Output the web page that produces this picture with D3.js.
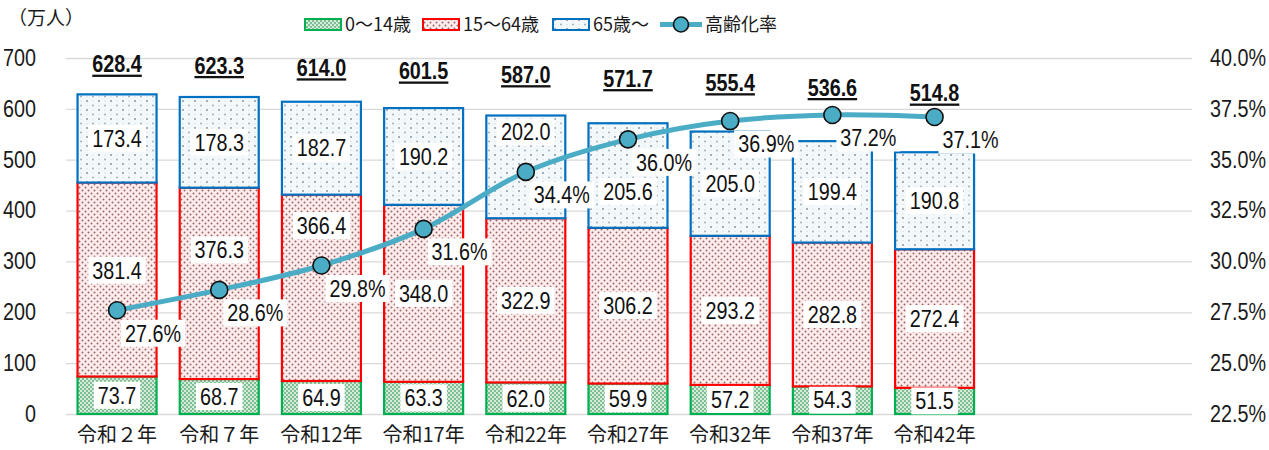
<!DOCTYPE html>
<html>
<head>
<meta charset="utf-8">
<script src="https://cdn.jsdelivr.net/npm/d3@7"></script>
<style>
  body { margin: 0; background: #fff; }
  svg { display: block; }
</style>
</head>
<body>
<div id="chart"></div>
<script>
// chart data
const categories = ["令和２年", "令和７年", "令和12年", "令和17年", "令和22年", "令和27年", "令和32年", "令和37年", "令和42年"];
const child = [73.7, 68.7, 64.9, 63.3, 62.0, 59.9, 57.2, 54.3, 51.5];
const working = [381.4, 376.3, 366.4, 348.0, 322.9, 306.2, 293.2, 282.8, 272.4];
const elderly = [173.4, 178.3, 182.7, 190.2, 202.0, 205.6, 205.0, 199.4, 190.8];
const totals = [628.4, 623.3, 614.0, 601.5, 587.0, 571.7, 555.4, 536.6, 514.8];
const agingRate = [27.6, 28.6, 29.8, 31.6, 34.4, 36.0, 36.9, 37.2, 37.1];
const leftTicks = [0, 100, 200, 300, 400, 500, 600, 700];
const rightTicks = [22.5, 25.0, 27.5, 30.0, 32.5, 35.0, 37.5, 40.0];
const seriesNames = ["0～14歳", "15～64歳", "65歳～", "高齢化率"];

const W = 1269, H = 450;
const jpFont = "'Noto Sans CJK JP', 'Noto Sans', sans-serif";
const numFont = "'Liberation Sans', Arial, sans-serif";
const squeeze = "scale(0.86,1)"; // narrow digits like the original

const svg = d3.select("#chart").append("svg").attr("width", W).attr("height", H);

// patterns for the bars
const defs = svg.append("defs");
function dotPattern(id, w, h, bg, dots) {
  const p = defs.append("pattern").attr("id", id).attr("patternUnits", "userSpaceOnUse")
    .attr("width", w).attr("height", h);
  p.append("rect").attr("width", w).attr("height", h).attr("fill", bg);
  dots.forEach(d => p.append("circle").attr("cx", d[0]).attr("cy", d[1]).attr("r", d[2]).attr("fill", d[3]));
}
dotPattern("pGreen", 4, 4, "#d3ecd9", [[1, 1, 0.9, "#5aa873"], [3, 3, 0.9, "#5aa873"]]);
dotPattern("pRed", 6, 6, "#fdecec", [[1.5, 1.5, 0.95, "#9c6363"], [4.5, 4.5, 0.95, "#9c6363"]]);
dotPattern("pBlue", 12, 9, "#f3f8fb", [[3, 2, 0.9, "#7d8c99"], [9, 6.5, 0.9, "#9aa8b4"], [3, 6.5, 0.6, "#c9d4dd"], [9, 2, 0.6, "#c9d4dd"]]);

// scales: 11 slots, the last two are empty
const x = d3.scaleBand().domain(d3.range(11)).range([66, 1190]).paddingInner(0.227).paddingOuter(0.113);
const y = d3.scaleLinear().domain([0, 700]).range([414, 58]);
const yR = d3.scaleLinear().domain([22.5, 40]).range([414, 58]);
const cxOf = i => x(i) + x.bandwidth() / 2;

// gridlines
svg.append("g").selectAll("line").data(leftTicks).join("line")
  .attr("x1", 66).attr("x2", 1192)
  .attr("y1", d => y(d) + 0.5).attr("y2", d => y(d) + 0.5)
  .attr("stroke", "#d9d9d9").attr("stroke-width", 1.3);

// left axis
const yAxis = svg.append("g").attr("transform", "translate(36,0)")
  .call(d3.axisLeft(y).tickValues(leftTicks).tickSize(0).tickPadding(0));
yAxis.select(".domain").remove();
yAxis.selectAll("text").attr("font-family", numFont).attr("font-size", 23).attr("fill", "#1a1a1a")
  .attr("transform", squeeze);

// right axis
const yAxisR = svg.append("g").attr("transform", "translate(1210,0)")
  .call(d3.axisRight(yR).tickValues(rightTicks).tickSize(0).tickPadding(0).tickFormat(d => d3.format(".1f")(d) + "%"));
yAxisR.select(".domain").remove();
yAxisR.selectAll("text").attr("font-family", numFont).attr("font-size", 23).attr("fill", "#1a1a1a")
  .attr("transform", squeeze);

// category labels
svg.append("g").selectAll("text").data(categories).join("text")
  .attr("x", (d, i) => cxOf(i)).attr("y", 442)
  .attr("text-anchor", "middle").attr("font-family", jpFont).attr("font-size", 20).attr("fill", "#1a1a1a")
  .text(d => d);

// unit label
svg.append("text").attr("x", 8).attr("y", 25).attr("font-family", jpFont).attr("font-size", 19)
  .attr("fill", "#1a1a1a").text("（万人）");

// stacked bars
const rows = categories.map((c, i) => ({ i, child: child[i], working: working[i], elderly: elderly[i] }));
const stack = d3.stack().keys(["child", "working", "elderly"])(rows);
const fills = ["url(#pGreen)", "url(#pRed)", "url(#pBlue)"];
const strokes = ["#00b050", "#ff0000", "#0070c0"];

stack.forEach((layer, k) => {
  svg.append("g").selectAll("rect").data(layer).join("rect")
    .attr("x", d => x(d.data.i)).attr("width", x.bandwidth())
    .attr("y", d => y(d[1])).attr("height", d => y(d[0]) - y(d[1]))
    .attr("fill", fills[k]).attr("stroke", strokes[k]).attr("stroke-width", 2.2);
});

// number label on a white box
function boxLabel(parent, cx, cy, txt) {
  const g = parent.append("g").attr("transform", `translate(${cx},${cy})`);
  const t = g.append("text").attr("dy", "0.36em").attr("transform", squeeze)
    .attr("text-anchor", "middle").attr("font-family", numFont).attr("font-size", 23)
    .attr("fill", "#111").text(txt);
  const w = t.node().getBBox().width * 0.86;
  g.insert("rect", "text").attr("x", -w / 2 - 4).attr("y", -13.5).attr("width", w + 8).attr("height", 27)
    .attr("fill", "#fff");
}

// segment value labels, nudged away from the rate line
const segLabels = svg.append("g");
stack.forEach((layer, k) => {
  layer.forEach((d, i) => {
    const top = y(d[1]), bottom = y(d[0]);
    let cy = (top + bottom) / 2;
    const ly = yR(agingRate[i]);
    if (k > 0 && Math.abs(cy - ly) < 40) {
      if (ly - 40 >= top + 14) cy = ly - 40;
      else if (ly + 52 <= bottom - 14) cy = ly + 52;
      else cy = top + 14;
    }
    boxLabel(segLabels, cxOf(i), cy, d3.format(".1f")(d[1] - d[0]));
  });
});

// rate line
const line = d3.line().x((d, i) => cxOf(i)).y(d => yR(d)).curve(d3.curveCatmullRom.alpha(0.5));
svg.append("path").datum(agingRate).attr("d", line)
  .attr("fill", "none").attr("stroke", "#4bacc6").attr("stroke-width", 5);

svg.append("g").selectAll("circle").data(agingRate).join("circle")
  .attr("cx", (d, i) => cxOf(i)).attr("cy", d => yR(d)).attr("r", 8.5)
  .attr("fill", "#4bacc6").attr("stroke", "#111").attr("stroke-width", 1.6);

// rate labels (right / below of marker)
const rateLabels = svg.append("g");
agingRate.forEach((v, i) => {
  boxLabel(rateLabels, cxOf(i) + 36, yR(v) + 23, d3.format(".1f")(v) + "%");
});

// totals above bars
const totalG = svg.append("g");
totals.forEach((v, i) => {
  totalG.append("g").attr("transform", `translate(${cxOf(i)},${(y(v) + 34) / 2})`)
    .append("text").attr("dy", "0.36em").attr("transform", squeeze)
    .attr("text-anchor", "middle").attr("font-family", numFont).attr("font-size", 23)
    .attr("font-weight", "bold").attr("text-decoration", "underline").attr("fill", "#111")
    .text(d3.format(".1f")(v));
});

// legend
const legend = svg.append("g");
const legendX = [305, 423, 553, 660];
seriesNames.forEach((name, k) => {
  const lx = legendX[k];
  if (k < 3) {
    legend.append("rect").attr("x", lx).attr("y", 19).attr("width", 36).attr("height", 11)
      .attr("fill", fills[k]).attr("stroke", strokes[k]).attr("stroke-width", 2);
  } else {
    legend.append("line").attr("x1", lx).attr("x2", lx + 42).attr("y1", 24.5).attr("y2", 24.5)
      .attr("stroke", "#4bacc6").attr("stroke-width", 5);
    legend.append("circle").attr("cx", lx + 21).attr("cy", 24.5).attr("r", 7.5)
      .attr("fill", "#4bacc6").attr("stroke", "#111").attr("stroke-width", 1.6);
  }
  legend.append("text").attr("x", k < 3 ? lx + 40 : lx + 45).attr("y", 25).attr("dy", "0.35em")
    .attr("font-family", jpFont).attr("font-size", 18).attr("fill", "#1a1a1a").text(name);
});
</script>
</body>
</html>
